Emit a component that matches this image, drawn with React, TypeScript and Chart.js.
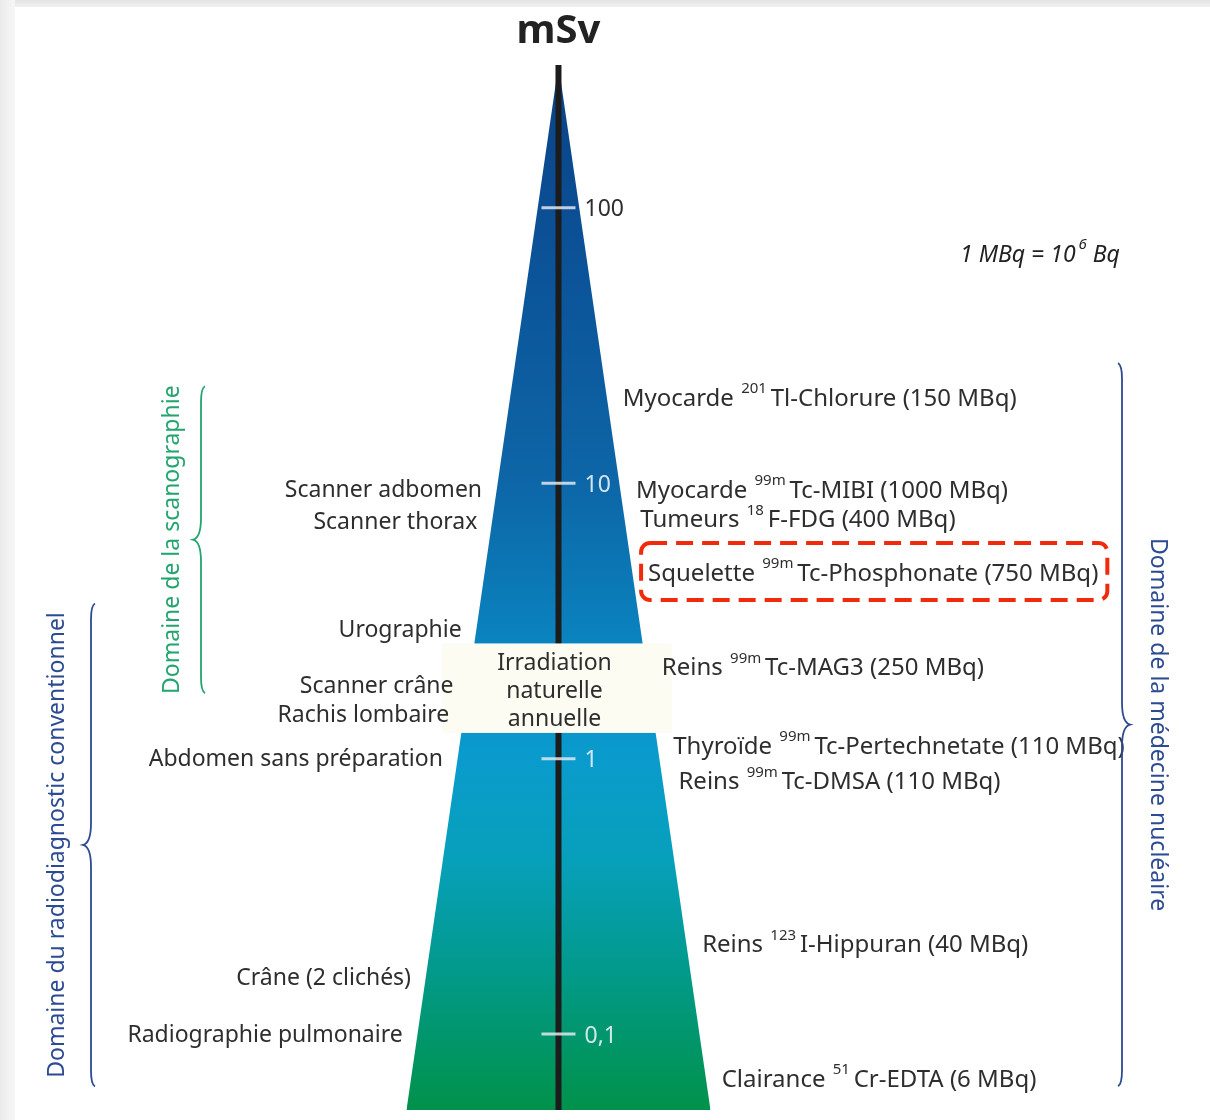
import React, { useEffect, useRef } from "react";
import { Chart, registerables } from "chart.js";

Chart.register(...registerables);

// ---------------- data ----------------
const UNIT = "mSv";
const SCALE_MIN = 0.053; // mSv at the base of the pyramid
const SCALE_MAX = 330; // mSv at the apex
const TICK_VALUES = [100, 10, 1, 0.1];
const TICK_LABELS = ["100", "10", "1", "0,1"];

const NATURAL_BAND = [1.24, 2.62]; // mSv
const NATURAL_LINES = ["Irradiation", "naturelle", "annuelle"];

// Nuclear medicine exams (right side)
const NM_EXAMS = ["Myocarde", "Myocarde", "Tumeurs", "Squelette", "Reins", "Thyroïde", "Reins", "Reins", "Clairance"];
const NM_ISOTOPES = ["201", "99m", "18", "99m", "99m", "99m", "99m", "123", "51"];
const NM_TRACERS = [
  "Tl-Chlorure (150 MBq)",
  "Tc-MIBI (1000 MBq)",
  "F-FDG (400 MBq)",
  "Tc-Phosphonate (750 MBq)",
  "Tc-MAG3 (250 MBq)",
  "Tc-Pertechnetate (110 MBq)",
  "Tc-DMSA (110 MBq)",
  "I-Hippuran (40 MBq)",
  "Cr-EDTA (6 MBq)",
];
const NM_DOSES = [20.7, 9.6, 7.5, 4.8, 2.18, 1.13, 0.84, 0.215, 0.07];
const HIGHLIGHTED_NM = 3;

// Radiology exams (left side)
const RX_EXAMS = [
  "Scanner adbomen",
  "Scanner thorax",
  "Urographie",
  "Scanner crâne",
  "Rachis lombaire",
  "Abdomen sans préparation",
  "Crâne (2 clichés)",
  "Radiographie pulmonaire",
];
const RX_DOSES = [9.67, 7.4, 3.0, 1.87, 1.47, 1.02, 0.163, 0.101];

// Domains (braces)
const DOMAINS = [
  "Domaine de la scanographie",
  "Domaine du radiodiagnostic conventionnel",
  "Domaine de la médecine nucléaire",
];
const DOMAIN_FROM = [1.73, 0.0645, 0.0647];
const DOMAIN_TO = [22.5, 3.66, 27.3];

const NOTE_MAIN = "1 MBq = 10";
const NOTE_SUP = "6";
const NOTE_TAIL = " Bq";

// ---------------- styles / layout ----------------
const FONT = '"Noto Sans", "DejaVu Sans", sans-serif';
const TEXT_COLOR = "#2e2e2e";
const LABEL_SIZE = 23;
const NM_LABEL_SIZE = 24;
const TEXT_NUDGE = 3;
const GRADIENT_STOPS: [number, string][] = [
  [0, "#0a4285"],
  [0.14, "#0b4e94"],
  [0.4, "#0d66a7"],
  [0.55, "#0a83be"],
  [0.66, "#0a9bcd"],
  [0.76, "#07a0bb"],
  [0.86, "#029a8e"],
  [1, "#00924a"],
];
const DOMAIN_COLORS = ["#22a56e", "#2c4b92", "#2c4b92"];
const DOMAIN_DIR = [-1, -1, 1];
const DOMAIN_BRACE_X = [201, 91, 1122];
const DOMAIN_TEXT_X = [172, 57, 1158];
const DOMAIN_TEXT_SIZE = [23, 23, 23];
const X_MIN = -3.674;
const X_MAX = 4.286;

function halfWidthUnits(v: number) {
  const lmax = Math.log10(SCALE_MAX);
  const lmin = Math.log10(SCALE_MIN);
  return (lmax - Math.log10(v)) / (lmax - lmin);
}

function drawRich(ctx: CanvasRenderingContext2D, x: number, y: number, prefix: string, sup: string, rest: string, size: number) {
  ctx.textAlign = "left";
  ctx.textBaseline = "middle";
  ctx.font = `${size}px ${FONT}`;
  ctx.fillText(prefix + " ", x, y);
  let cur = x + ctx.measureText(prefix + " ").width + 1;
  ctx.font = `${Math.round(size * 0.64)}px ${FONT}`;
  ctx.fillText(sup, cur, y - size * 0.42);
  cur += ctx.measureText(sup).width + size * 0.16;
  ctx.font = `${size}px ${FONT}`;
  ctx.fillText(rest, cur, y);
  cur += ctx.measureText(rest).width;
  return cur;
}

function drawBrace(ctx: CanvasRenderingContext2D, x0: number, yTop: number, yBot: number, dir: number, color: string) {
  const a = 4;
  const b = 8;
  const r = 16;
  const rc = 22;
  const ym = (yTop + yBot) / 2;
  ctx.save();
  ctx.strokeStyle = color;
  ctx.lineWidth = 1.8;
  ctx.beginPath();
  ctx.moveTo(x0 - dir * a, yTop);
  ctx.quadraticCurveTo(x0, yTop + 2, x0, yTop + r);
  ctx.lineTo(x0, ym - rc);
  ctx.quadraticCurveTo(x0, ym - 2, x0 + dir * b, ym);
  ctx.quadraticCurveTo(x0, ym + 2, x0, ym + rc);
  ctx.lineTo(x0, yBot - r);
  ctx.quadraticCurveTo(x0, yBot - 2, x0 - dir * a, yBot);
  ctx.stroke();
  ctx.restore();
}

const overlayPlugin = {
  id: "pyramidOverlay",
  afterDatasetsDraw(chart: any) {
    const ctx: CanvasRenderingContext2D = chart.ctx;
    const xs = chart.scales.x;
    const ys = chart.scales.y;
    const area = chart.chartArea;
    const cx = xs.getPixelForValue(0);
    const halfPx = (v: number) => xs.getPixelForValue(halfWidthUnits(v)) - cx;

    ctx.save();

    // natural irradiation band
    const bandTop = ys.getPixelForValue(NATURAL_BAND[1]);
    const bandBot = ys.getPixelForValue(NATURAL_BAND[0]);
    const bandHalf = halfPx(NATURAL_BAND[0]) + 16;
    ctx.fillStyle = "#fcfcf3";
    ctx.fillRect(cx - bandHalf - 3, bandTop, bandHalf * 2 + 3, bandBot - bandTop);
    ctx.fillStyle = TEXT_COLOR;
    ctx.font = `${LABEL_SIZE}px ${FONT}`;
    ctx.textAlign = "center";
    ctx.textBaseline = "middle";
    const bandMid = (bandTop + bandBot) / 2 + TEXT_NUDGE;
    NATURAL_LINES.forEach((t, i) => {
      ctx.fillText(t, cx - 4, bandMid + (i - 1) * 28);
    });

    // ticks
    TICK_VALUES.forEach((v, i) => {
      const py = ys.getPixelForValue(v);
      ctx.strokeStyle = "rgba(225,232,240,0.85)";
      ctx.lineWidth = 3;
      ctx.beginPath();
      ctx.moveTo(cx - 17, py);
      ctx.lineTo(cx + 17, py);
      ctx.stroke();
      const tx = cx + 26;
      const inside = tx < cx + halfPx(v);
      ctx.fillStyle = inside ? "rgba(228,238,246,0.92)" : TEXT_COLOR;
      ctx.font = `${LABEL_SIZE}px ${FONT}`;
      ctx.textAlign = "left";
      ctx.textBaseline = "middle";
      ctx.fillText(TICK_LABELS[i], tx, py + 2);
    });

    // unit title
    ctx.fillStyle = "#222222";
    ctx.font = `bold 40px ${FONT}`;
    ctx.textAlign = "center";
    ctx.textBaseline = "middle";
    ctx.fillText(UNIT, cx, area.top - 33);

    // right labels (nuclear medicine)
    NM_DOSES.forEach((v, i) => {
      const py = ys.getPixelForValue(v) + TEXT_NUDGE;
      const px = cx + halfPx(v) + 16;
      ctx.fillStyle = TEXT_COLOR;
      const end = drawRich(ctx, px, py, NM_EXAMS[i], NM_ISOTOPES[i], NM_TRACERS[i], NM_LABEL_SIZE);
      if (i === HIGHLIGHTED_NM) {
        ctx.save();
        ctx.strokeStyle = "#f02a0a";
        ctx.lineWidth = 4;
        ctx.setLineDash([17, 9]);
        ctx.beginPath();
        (ctx as any).roundRect(px - 7, py - 31, end - px + 16, 57, 9);
        ctx.stroke();
        ctx.restore();
      }
    });

    // left labels (radiology)
    ctx.fillStyle = TEXT_COLOR;
    ctx.font = `${LABEL_SIZE}px ${FONT}`;
    ctx.textAlign = "right";
    ctx.textBaseline = "middle";
    RX_DOSES.forEach((v, i) => {
      const py = ys.getPixelForValue(v) + TEXT_NUDGE;
      const px = cx - halfPx(v) - 15;
      ctx.fillText(RX_EXAMS[i], px, py);
    });

    // domains
    DOMAINS.forEach((name, i) => {
      const yTop = ys.getPixelForValue(DOMAIN_TO[i]);
      const yBot = ys.getPixelForValue(DOMAIN_FROM[i]);
      drawBrace(ctx, DOMAIN_BRACE_X[i], yTop, yBot, DOMAIN_DIR[i], DOMAIN_COLORS[i]);
      ctx.save();
      ctx.translate(DOMAIN_TEXT_X[i], (yTop + yBot) / 2);
      ctx.rotate(DOMAIN_DIR[i] < 0 ? -Math.PI / 2 : Math.PI / 2);
      ctx.fillStyle = DOMAIN_COLORS[i];
      ctx.font = `${DOMAIN_TEXT_SIZE[i]}px ${FONT}`;
      ctx.textAlign = "center";
      ctx.textBaseline = "middle";
      ctx.fillText(name, 0, 0);
      ctx.restore();
    });

    // conversion note
    ctx.fillStyle = "#222222";
    ctx.textBaseline = "middle";
    ctx.textAlign = "left";
    const noteY = ys.getPixelForValue(SCALE_MAX) + 190;
    let nx = area.right - 250;
    ctx.font = `italic 23px ${FONT}`;
    ctx.fillText(NOTE_MAIN, nx, noteY);
    nx += ctx.measureText(NOTE_MAIN).width + 3;
    ctx.font = `italic 15px ${FONT}`;
    ctx.fillText(NOTE_SUP, nx, noteY - 10);
    nx += ctx.measureText(NOTE_SUP).width;
    ctx.font = `italic 23px ${FONT}`;
    ctx.fillText(NOTE_TAIL, nx, noteY);

    ctx.restore();
  },
};

export default function App() {
  const ref = useRef<HTMLCanvasElement>(null);

  useEffect(() => {
    if (!ref.current) return;
    const gradientFill = (context: any) => {
      const { chart } = context;
      const area = chart.chartArea;
      if (!area) return "#0d66a7";
      const g = chart.ctx.createLinearGradient(0, area.top, 0, area.bottom);
      GRADIENT_STOPS.forEach(([t, c]) => g.addColorStop(t, c));
      return g;
    };
    const chart = new Chart(ref.current, {
      type: "line",
      data: {
        datasets: [
          {
            label: "axis",
            data: [
              { x: 0, y: SCALE_MIN },
              { x: 0, y: SCALE_MAX },
            ],
            borderColor: "#1c1c1c",
            borderWidth: 6,
            pointRadius: 0,
            fill: false,
            order: 1,
          },
          {
            label: "dose",
            data: [
              { x: -1, y: SCALE_MIN },
              { x: 0, y: SCALE_MAX },
              { x: 1, y: SCALE_MIN },
            ],
            borderColor: "transparent",
            borderWidth: 0,
            backgroundColor: gradientFill,
            fill: "start",
            pointRadius: 0,
            order: 2,
          },
        ],
      },
      options: {
        animation: false,
        responsive: false,
        maintainAspectRatio: false,
        devicePixelRatio: 1,
        layout: { padding: { top: 65, bottom: 10, left: 0, right: 0 } },
        plugins: {
          legend: { display: false },
          tooltip: { enabled: false },
          title: { display: false },
        },
        elements: { line: { tension: 0 } },
        scales: {
          x: { type: "linear", display: false, min: X_MIN, max: X_MAX },
          y: { type: "logarithmic", display: false, min: SCALE_MIN, max: SCALE_MAX },
        },
      },
      plugins: [overlayPlugin],
    } as any);
    return () => chart.destroy();
  }, []);

  return (
    <div style={{ position: "absolute", left: 0, top: 0, width: 1210, height: 1120, background: "#ffffff", overflow: "hidden" }}>
      <div style={{ position: "absolute", left: 0, top: 0, width: 1210, height: 7, background: "linear-gradient(#e4e4e4,#f0f0f0)" }} />
      <div style={{ position: "absolute", left: 0, top: 0, width: 15, height: 1120, background: "linear-gradient(to right,#ebebeb,#f7f7f7)" }} />
      <canvas ref={ref} width={1210} height={1120} style={{ position: "absolute", left: 0, top: 0, width: 1210, height: 1120 }} />
    </div>
  );
}
